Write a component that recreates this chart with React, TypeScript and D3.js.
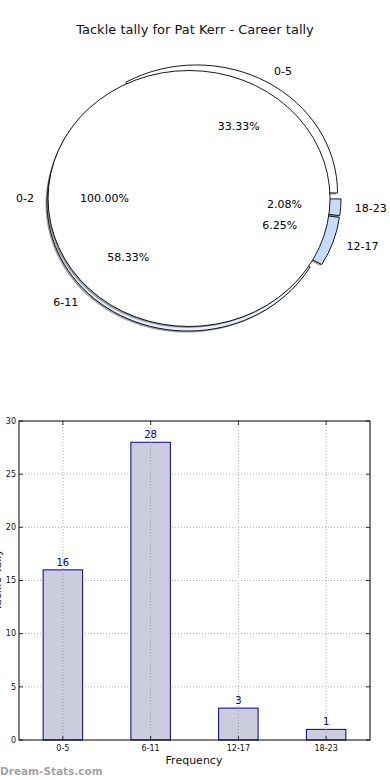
import * as d3 from "d3";
import { useEffect } from "react";

// данные
const categories = ["0-5", "6-11", "12-17", "18-23"];
const tallies = [16, 28, 3, 1];
const sliceColors = ["#ffffff", "#e8efff", "#c6dbff", "#c6dbff"];
const outerLabels = ["0-2"];
const outerValues = [1];
const yTicks = [0, 5, 10, 15, 20, 25, 30];

const W = 390;
const H = 780;
const font = "DejaVu Sans, Verdana, sans-serif";

// пирог (эллипс)
const pieC = { x: 193, y: 198.5 };
const rx = 141;
const ry = 128;
const explode = 0.05;
const explodeOuter = 0.028;

// гистограмма
const plot = { left: 19, right: 370, top: 421, bottom: 740 };

const arcGen = d3.arc<any>().innerRadius(0).outerRadius(1);
const pieGen = d3
  .pie<number>()
  .sort(null)
  .startAngle(Math.PI / 2)
  .endAngle(Math.PI / 2 - 2 * Math.PI);

const dir = (a: any) => {
  const m = (a.startAngle + a.endAngle) / 2;
  return [Math.sin(m), -Math.cos(m)];
};

const Pie = ({ values, colors, ex }: any) => {
  const arcs = pieGen(values);
  const parts = arcs.map((a: any, i: number) => {
    const [ux, uy] = dir(a);
    const ox = pieC.x + ex * rx * ux;
    const oy = pieC.y + ex * ry * uy;
    return { a, i, ox, oy };
  });
  return (
    <g>
      {parts.map((p: any) => (
        <path
          key={"s" + p.i}
          d={arcGen(p.a) as string}
          transform={`translate(${p.ox - 1.5},${p.oy + 1.5}) scale(${rx},${ry})`}
          fill="#444"
          fillOpacity={0.5}
        />
      ))}
      {parts.map((p: any) => (
        <path
          key={"w" + p.i}
          d={arcGen(p.a) as string}
          transform={`translate(${p.ox},${p.oy}) scale(${rx},${ry})`}
          fill={colors[p.i]}
          stroke="#000"
          strokeWidth={0.9}
          vectorEffect="non-scaling-stroke"
        />
      ))}
    </g>
  );
};

const PieLabels = ({ values, labels, ex }: any) => {
  const total = d3.sum(values);
  const arcs = pieGen(values);
  return (
    <g fontFamily={font} fontSize={11} fill="#000">
      {arcs.map((a: any, i: number) => {
        const [ux, uy] = dir(a);
        const ox = pieC.x + ex * rx * ux;
        const oy = pieC.y + ex * ry * uy;
        return (
          <g key={i}>
            <text
              x={ox + 1.1 * rx * ux}
              y={oy + 1.1 * ry * uy}
              dy="0.35em"
              textAnchor={ux > 0 ? "start" : "end"}
            >
              {labels[i]}
            </text>
            <text
              x={ox + 0.6 * rx * ux}
              y={oy + 0.6 * ry * uy}
              dy="0.35em"
              textAnchor="middle"
            >
              {d3.format(".2f")((values[i] / total) * 100) + "%"}
            </text>
          </g>
        );
      })}
    </g>
  );
};

const App = () => {
  useEffect(() => {
    document.body.style.margin = "0";
  }, []);

  const x = d3
    .scaleBand()
    .domain(categories)
    .range([plot.left, plot.right])
    .padding(0);
  const y = d3.scaleLinear().domain([0, 30]).range([plot.bottom, plot.top]);
  const barW = x.bandwidth() * 0.45;
  const cx = (c: string) => (x(c) as number) + x.bandwidth() / 2;

  return (
    <svg width={W} height={H} style={{ display: "block" }}>
      <rect width={W} height={H} fill="#fff" />
      <text x={195} y={34} textAnchor="middle" fontFamily={font} fontSize={13} fill="#111">
        Tackle tally for Pat Kerr - Career tally
      </text>

      {/* пирог: четыре сектора, поверх — полный эллипс 0-2 */}
      <Pie values={tallies} colors={sliceColors} ex={explode} />
      <g transform={`translate(${-explodeOuter * rx},0)`}>
        <Pie values={outerValues} colors={["#ffffff"]} ex={0} />
      </g>
      <PieLabels values={tallies} labels={categories} ex={explode} />
      <g transform={`translate(${-explodeOuter * rx},0)`}>
        <PieLabels values={outerValues} labels={outerLabels} ex={0} />
      </g>

      {/* гистограмма: сетка */}
      <g stroke="#b0b0b0" strokeWidth={1} strokeDasharray="1,2">
        {yTicks
          .filter((t) => t > 0 && t < 30)
          .map((t) => (
            <line key={t} x1={plot.left} x2={plot.right} y1={y(t)} y2={y(t)} />
          ))}
        {categories.map((c) => (
          <line key={c} x1={cx(c)} x2={cx(c)} y1={plot.top} y2={plot.bottom} />
        ))}
      </g>

      {/* столбцы */}
      {categories.map((c, i) => (
        <g key={c}>
          <rect
            x={cx(c) - barW / 2}
            y={y(tallies[i])}
            width={barW}
            height={plot.bottom - y(tallies[i])}
            fill="#ccccdf"
            stroke="#00008b"
            strokeWidth={1}
          />
          <text
            x={cx(c)}
            y={y(tallies[i]) - 4}
            textAnchor="middle"
            fontFamily={font}
            fontSize={10}
            fill="#00008b"
          >
            {tallies[i]}
          </text>
        </g>
      ))}
      {/* сетка поверх столбцов */}
      <g stroke="#9a9aa8" strokeWidth={1} strokeDasharray="1,2">
        {categories.map((c, i) => (
          <line key={c} x1={cx(c)} x2={cx(c)} y1={y(tallies[i])} y2={plot.bottom} />
        ))}
      </g>

      {/* рамка и тики */}
      <rect
        x={plot.left}
        y={plot.top}
        width={plot.right - plot.left}
        height={plot.bottom - plot.top}
        fill="none"
        stroke="#000"
        strokeWidth={1}
      />
      <g stroke="#000" strokeWidth={0.8}>
        {yTicks.map((t) => (
          <g key={t}>
            <line x1={plot.left} x2={plot.left + 4} y1={y(t)} y2={y(t)} />
            <line x1={plot.right} x2={plot.right - 4} y1={y(t)} y2={y(t)} />
          </g>
        ))}
        {categories.map((c) => (
          <g key={c}>
            <line x1={cx(c)} x2={cx(c)} y1={plot.bottom} y2={plot.bottom - 4} />
            <line x1={cx(c)} x2={cx(c)} y1={plot.top} y2={plot.top + 4} />
          </g>
        ))}
      </g>
      <g fontFamily={font} fontSize={8} fill="#111">
        {yTicks.map((t) => (
          <text key={t} x={plot.left - 3} y={y(t)} dy="0.35em" textAnchor="end">
            {t}
          </text>
        ))}
        {categories.map((c) => (
          <text key={c} x={cx(c)} y={plot.bottom + 11} textAnchor="middle">
            {c}
          </text>
        ))}
      </g>
      <text x={194} y={764} textAnchor="middle" fontFamily={font} fontSize={11} fill="#111">
        Frequency
      </text>
      <text
        transform="translate(1,580) rotate(-90)"
        textAnchor="middle"
        fontFamily={font}
        fontSize={11}
        fill="#111"
      >
        Tackle Tally
      </text>
      <text x={0} y={775} fontFamily={font} fontSize={10.5} fontWeight="bold" fill="#a3a3a3">
        Dream-Stats.com
      </text>
    </svg>
  );
};

export default App;
